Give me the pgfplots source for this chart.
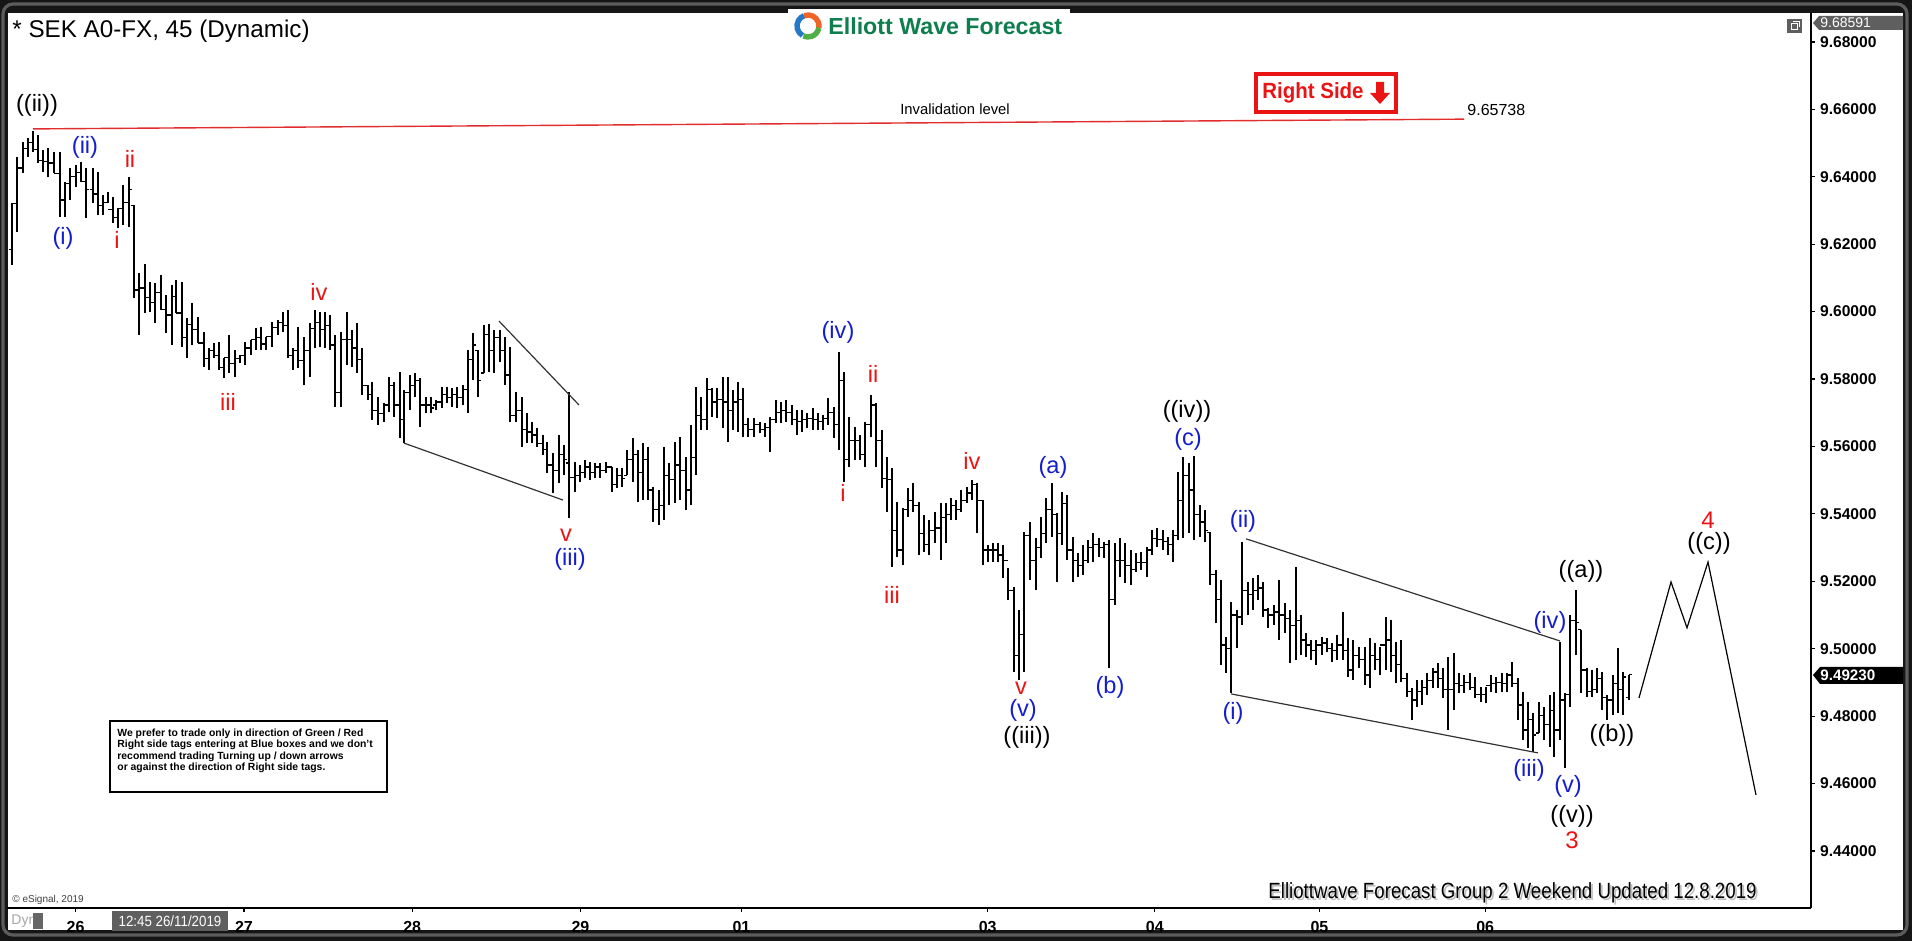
\documentclass[border=0pt]{standalone}
\usepackage{fontspec}
\setmainfont{Liberation Sans}
\usepackage{graphicx}
\usepackage{pgfplots}
\usepackage{pgfplotstable}
\pgfplotsset{compat=1.18}
\definecolor{ewblue}{RGB}{20,30,205}
\definecolor{ewred}{RGB}{235,20,20}
\definecolor{ewgreen}{RGB}{14,126,78}
\definecolor{framedark}{RGB}{22,22,22}
\definecolor{framegray}{RGB}{92,92,92}
\definecolor{tagGray}{RGB}{95,95,95}
\definecolor{logoBlue}{RGB}{35,120,200}
\definecolor{logoOrange}{RGB}{240,100,40}
\definecolor{logoGreen}{RGB}{80,175,70}

\pgfdeclareplotmark{otick}{\pgfpathmoveto{\pgfqpoint{-1.4pt}{0pt}}\pgfpathlineto{\pgfqpoint{0pt}{0pt}}\pgfusepathqstroke}
\pgfdeclareplotmark{ctick}{\pgfpathmoveto{\pgfqpoint{0pt}{0pt}}\pgfpathlineto{\pgfqpoint{1.4pt}{0pt}}\pgfusepathqstroke}

\newcommand\wlfont{\fontsize{11.8}{13}\selectfont}
\newcommand\wl[4]{\node[text=#1,font=\wlfont,inner sep=0pt] at (#2,#3) {#4};}

% x = bar position, h = high, l = low, o = open, c = close
\pgfplotstableread{
x h l o c
12 9.6322 9.6138 9.6183 9.6322
17 9.6459 9.6236 9.6322 9.6426
23 9.6503 9.6411 9.6426 9.6485
28 9.6515 9.6459 9.6485 9.6503
33 9.6536 9.6474 9.6503 9.6482
38 9.6524 9.6441 9.6482 9.6447
43 9.6480 9.6414 9.6447 9.6444
48 9.6485 9.6399 9.6444 9.6441
54 9.6474 9.6411 9.6441 9.6411
60 9.6474 9.6281 9.6411 9.6331
65 9.6385 9.6281 9.6331 9.6379
70 9.6426 9.6331 9.6379 9.6402
76 9.6435 9.6370 9.6402 9.6414
81 9.6444 9.6385 9.6414 9.6385
86 9.6426 9.6278 9.6385 9.6361
93 9.6426 9.6322 9.6361 9.6349
98 9.6414 9.6287 9.6349 9.6316
103 9.6346 9.6287 9.6316 9.6325
108 9.6355 9.6322 9.6325 9.6302
113 9.6340 9.6263 9.6302 9.6278
118 9.6307 9.6248 9.6278 9.6307
123 9.6376 9.6257 9.6307 9.6325
129 9.6399 9.6251 9.6325 9.6361
134 9.6316 9.6040 9.6316 9.6064
139 9.6115 9.5931 9.6064 9.6070
145 9.6141 9.5996 9.6070 9.6043
150 9.6088 9.5999 9.6043 9.6026
155 9.6085 9.5966 9.6026 9.6058
161 9.6109 9.6005 9.6058 9.6005
166 9.6049 9.5937 9.6005 9.5990
172 9.6079 9.5901 9.5990 9.6046
176 9.6094 9.5996 9.6046 9.5996
182 9.6088 9.5895 9.5996 9.5922
187 9.5981 9.5863 9.5922 9.5963
192 9.6026 9.5901 9.5963 9.5946
198 9.5984 9.5907 9.5946 9.5907
204 9.5940 9.5836 9.5907 9.5860
209 9.5892 9.5827 9.5860 9.5886
214 9.5907 9.5863 9.5886 9.5869
219 9.5910 9.5827 9.5869 9.5833
224 9.5863 9.5803 9.5833 9.5863
229 9.5931 9.5818 9.5863 9.5845
235 9.5886 9.5806 9.5845 9.5860
240 9.5871 9.5848 9.5860 9.5871
245 9.5910 9.5842 9.5871 9.5892
251 9.5916 9.5871 9.5892 9.5916
256 9.5952 9.5886 9.5916 9.5922
261 9.5955 9.5886 9.5922 9.5904
266 9.5925 9.5886 9.5904 9.5925
272 9.5969 9.5895 9.5925 9.5952
278 9.5975 9.5931 9.5952 9.5969
283 9.5999 9.5940 9.5969 9.5960
288 9.6005 9.5863 9.5960 9.5871
293 9.5892 9.5827 9.5871 9.5886
298 9.5955 9.5833 9.5886 9.5854
304 9.5925 9.5782 9.5854 9.5886
310 9.5966 9.5806 9.5886 9.5949
315 9.6005 9.5892 9.5949 9.5969
320 9.5999 9.5895 9.5969 9.5946
325 9.5999 9.5892 9.5946 9.5960
330 9.5990 9.5886 9.5960 9.5901
335 9.5931 9.5717 9.5901 9.5759
341 9.5940 9.5717 9.5759 9.5916
347 9.5999 9.5842 9.5916 9.5916
352 9.5946 9.5836 9.5916 9.5892
357 9.5966 9.5818 9.5892 9.5857
362 9.5892 9.5753 9.5857 9.5782
368 9.5782 9.5738 9.5782 9.5753
372 9.5791 9.5679 9.5753 9.5708
378 9.5747 9.5664 9.5708 9.5699
384 9.5729 9.5673 9.5699 9.5723
389 9.5806 9.5702 9.5723 9.5782
394 9.5791 9.5687 9.5782 9.5723
400 9.5821 9.5625 9.5723 9.5679
404 9.5768 9.5610 9.5679 9.5759
410 9.5812 9.5708 9.5759 9.5782
415 9.5818 9.5747 9.5782 9.5797
420 9.5803 9.5658 9.5797 9.5723
426 9.5747 9.5699 9.5723 9.5723
431 9.5747 9.5699 9.5723 9.5714
436 9.5738 9.5708 9.5723 9.5732
442 9.5776 9.5714 9.5732 9.5753
447 9.5776 9.5729 9.5753 9.5744
452 9.5773 9.5717 9.5744 9.5753
457 9.5776 9.5714 9.5753 9.5744
463 9.5782 9.5723 9.5744 9.5768
468 9.5886 9.5699 9.5768 9.5857
473 9.5937 9.5797 9.5857 9.5901
478 9.5886 9.5747 9.5886 9.5797
484 9.5960 9.5818 9.5818 9.5931
489 9.5963 9.5821 9.5931 9.5886
494 9.5946 9.5818 9.5886 9.5922
500 9.5946 9.5851 9.5922 9.5886
505 9.5925 9.5782 9.5886 9.5812
510 9.5895 9.5673 9.5812 9.5693
516 9.5762 9.5673 9.5693 9.5708
522 9.5747 9.5599 9.5708 9.5649
527 9.5699 9.5610 9.5649 9.5643
532 9.5673 9.5610 9.5643 9.5634
537 9.5655 9.5599 9.5634 9.5610
543 9.5634 9.5575 9.5610 9.5590
547 9.5613 9.5521 9.5590 9.5545
553 9.5581 9.5462 9.5545 9.5530
559 9.5634 9.5492 9.5530 9.5575
564 9.5605 9.5515 9.5575 9.5560
569 9.5762 9.5388 9.5551 9.5509
575 9.5554 9.5465 9.5509 9.5515
580 9.5545 9.5495 9.5515 9.5524
585 9.5560 9.5506 9.5524 9.5539
590 9.5554 9.5501 9.5539 9.5524
595 9.5551 9.5506 9.5524 9.5539
600 9.5551 9.5506 9.5539 9.5530
606 9.5554 9.5521 9.5530 9.5539
612 9.5539 9.5465 9.5539 9.5486
617 9.5536 9.5477 9.5486 9.5515
622 9.5536 9.5480 9.5515 9.5506
627 9.5590 9.5515 9.5515 9.5560
633 9.5625 9.5495 9.5560 9.5575
638 9.5590 9.5435 9.5575 9.5524
643 9.5610 9.5441 9.5524 9.5560
648 9.5599 9.5441 9.5560 9.5471
653 9.5480 9.5376 9.5471 9.5412
659 9.5471 9.5367 9.5412 9.5426
664 9.5599 9.5382 9.5426 9.5515
669 9.5551 9.5426 9.5515 9.5501
675 9.5613 9.5432 9.5501 9.5545
680 9.5628 9.5441 9.5545 9.5530
686 9.5569 9.5412 9.5530 9.5471
691 9.5664 9.5426 9.5471 9.5566
696 9.5776 9.5515 9.5566 9.5693
701 9.5747 9.5649 9.5693 9.5679
707 9.5803 9.5649 9.5679 9.5768
712 9.5773 9.5687 9.5768 9.5732
717 9.5773 9.5684 9.5732 9.5738
723 9.5806 9.5655 9.5738 9.5732
728 9.5806 9.5613 9.5732 9.5708
733 9.5768 9.5649 9.5708 9.5732
738 9.5791 9.5643 9.5732 9.5738
743 9.5773 9.5628 9.5738 9.5664
748 9.5684 9.5628 9.5664 9.5649
754 9.5684 9.5628 9.5649 9.5664
760 9.5673 9.5640 9.5664 9.5649
765 9.5670 9.5628 9.5649 9.5655
770 9.5687 9.5584 9.5655 9.5679
776 9.5738 9.5670 9.5679 9.5702
781 9.5732 9.5670 9.5702 9.5708
786 9.5738 9.5673 9.5708 9.5702
792 9.5723 9.5664 9.5702 9.5679
797 9.5708 9.5634 9.5679 9.5673
802 9.5708 9.5643 9.5673 9.5679
807 9.5699 9.5655 9.5679 9.5684
813 9.5714 9.5649 9.5684 9.5679
818 9.5699 9.5649 9.5679 9.5673
823 9.5693 9.5649 9.5673 9.5684
828 9.5744 9.5664 9.5684 9.5702
834 9.5717 9.5625 9.5702 9.5664
839 9.5880 9.5590 9.5664 9.5797
844 9.5821 9.5495 9.5797 9.5560
849 9.5687 9.5539 9.5560 9.5619
855 9.5658 9.5560 9.5619 9.5619
860 9.5634 9.5560 9.5619 9.5575
865 9.5673 9.5539 9.5575 9.5664
871 9.5753 9.5628 9.5664 9.5723
876 9.5729 9.5539 9.5723 9.5619
882 9.5649 9.5477 9.5619 9.5506
887 9.5569 9.5406 9.5506 9.5501
892 9.5536 9.5242 9.5501 9.5352
897 9.5435 9.5272 9.5352 9.5293
903 9.5417 9.5248 9.5293 9.5412
908 9.5477 9.5391 9.5412 9.5441
913 9.5492 9.5406 9.5441 9.5426
919 9.5435 9.5278 9.5426 9.5343
924 9.5397 9.5287 9.5343 9.5308
929 9.5382 9.5278 9.5308 9.5352
935 9.5406 9.5314 9.5352 9.5358
941 9.5432 9.5263 9.5358 9.5388
946 9.5432 9.5314 9.5388 9.5397
951 9.5447 9.5382 9.5397 9.5426
956 9.5441 9.5382 9.5426 9.5412
961 9.5471 9.5406 9.5412 9.5441
967 9.5480 9.5432 9.5441 9.5462
972 9.5501 9.5441 9.5462 9.5486
977 9.5492 9.5343 9.5486 9.5441
983 9.5441 9.5248 9.5441 9.5293
988 9.5308 9.5257 9.5293 9.5293
993 9.5314 9.5257 9.5293 9.5293
998 9.5314 9.5257 9.5293 9.5278
1003 9.5308 9.5210 9.5278 9.5263
1008 9.5239 9.5145 9.5263 9.5174
1014 9.5183 9.4931 9.5174 9.4981
1019 9.5115 9.4907 9.4981 9.5041
1024 9.5346 9.4931 9.5041 9.5337
1030 9.5376 9.5204 9.5337 9.5263
1036 9.5328 9.5174 9.5263 9.5299
1041 9.5391 9.5269 9.5299 9.5343
1046 9.5447 9.5314 9.5343 9.5412
1052 9.5492 9.5331 9.5412 9.5397
1057 9.5403 9.5198 9.5397 9.5343
1062 9.5465 9.5308 9.5343 9.5432
1067 9.5456 9.5263 9.5432 9.5293
1073 9.5331 9.5198 9.5293 9.5263
1078 9.5284 9.5213 9.5263 9.5248
1083 9.5308 9.5219 9.5248 9.5263
1088 9.5323 9.5254 9.5263 9.5299
1093 9.5343 9.5257 9.5299 9.5308
1099 9.5328 9.5272 9.5308 9.5299
1104 9.5317 9.5269 9.5299 9.5308
1109 9.5323 9.4943 9.5308 9.5145
1115 9.5314 9.5130 9.5145 9.5263
1120 9.5328 9.5213 9.5263 9.5263
1125 9.5314 9.5195 9.5263 9.5248
1131 9.5293 9.5189 9.5248 9.5234
1136 9.5284 9.5228 9.5234 9.5257
1141 9.5287 9.5234 9.5257 9.5257
1147 9.5302 9.5213 9.5257 9.5293
1152 9.5352 9.5278 9.5293 9.5328
1157 9.5358 9.5302 9.5328 9.5323
1163 9.5352 9.5293 9.5323 9.5317
1168 9.5331 9.5278 9.5317 9.5308
1173 9.5352 9.5257 9.5308 9.5337
1178 9.5524 9.5323 9.5337 9.5441
1183 9.5569 9.5328 9.5441 9.5515
1189 9.5551 9.5343 9.5515 9.5471
1194 9.5572 9.5323 9.5471 9.5397
1200 9.5426 9.5331 9.5397 9.5376
1205 9.5412 9.5317 9.5376 9.5352
1210 9.5346 9.5189 9.5346 9.5219
1216 9.5234 9.5076 9.5219 9.5145
1221 9.5204 9.4952 9.5145 9.5011
1226 9.5035 9.4928 9.5011 9.5002
1231 9.5139 9.4869 9.5002 9.5100
1237 9.5115 9.5002 9.5100 9.5094
1242 9.5317 9.5070 9.5094 9.5174
1248 9.5198 9.5100 9.5174 9.5160
1253 9.5210 9.5115 9.5160 9.5174
1258 9.5219 9.5145 9.5174 9.5180
1263 9.5198 9.5094 9.5180 9.5115
1268 9.5121 9.5062 9.5115 9.5100
1274 9.5130 9.5070 9.5100 9.5109
1279 9.5204 9.5026 9.5109 9.5100
1285 9.5136 9.5047 9.5100 9.5091
1290 9.5115 9.4958 9.5091 9.5070
1296 9.5243 9.4967 9.5070 9.5085
1301 9.5100 9.4981 9.5085 9.5026
1306 9.5047 9.4975 9.5026 9.5011
1311 9.5026 9.4967 9.5011 9.4996
1316 9.5026 9.4952 9.4996 9.5011
1322 9.5035 9.4981 9.5011 9.5017
1327 9.5032 9.4990 9.5017 9.5002
1332 9.5017 9.4961 9.5002 9.4996
1337 9.5041 9.4967 9.4996 9.5011
1343 9.5109 9.4967 9.5011 9.4996
1348 9.5032 9.4916 9.4996 9.4937
1353 9.5026 9.4907 9.4937 9.4981
1359 9.5005 9.4943 9.4981 9.4967
1365 9.5005 9.4892 9.4967 9.4922
1370 9.5032 9.4883 9.4922 9.4981
1375 9.5017 9.4937 9.4981 9.4967
1380 9.5005 9.4922 9.4967 9.5011
1386 9.5094 9.4937 9.5011 9.5026
1391 9.5085 9.4931 9.5026 9.4981
1396 9.5020 9.4898 9.4981 9.4952
1401 9.5026 9.4901 9.4952 9.4913
1407 9.4928 9.4857 9.4913 9.4872
1412 9.4884 9.4789 9.4872 9.4848
1417 9.4907 9.4827 9.4848 9.4872
1422 9.4907 9.4833 9.4872 9.4884
1427 9.4928 9.4863 9.4884 9.4907
1433 9.4943 9.4884 9.4907 9.4931
1438 9.4958 9.4884 9.4931 9.4913
1443 9.4943 9.4854 9.4913 9.4878
1448 9.4976 9.4759 9.4878 9.4878
1454 9.4987 9.4818 9.4878 9.4898
1459 9.4928 9.4869 9.4898 9.4892
1464 9.4922 9.4869 9.4892 9.4901
1470 9.4928 9.4878 9.4901 9.4884
1475 9.4916 9.4854 9.4884 9.4863
1481 9.4887 9.4842 9.4863 9.4863
1486 9.4887 9.4839 9.4863 9.4892
1491 9.4922 9.4872 9.4892 9.4898
1496 9.4916 9.4869 9.4898 9.4901
1502 9.4928 9.4872 9.4901 9.4898
1507 9.4928 9.4872 9.4898 9.4922
1512 9.4961 9.4887 9.4922 9.4898
1518 9.4913 9.4789 9.4898 9.4833
1523 9.4872 9.4729 9.4833 9.4759
1528 9.4842 9.4705 9.4759 9.4789
1533 9.4809 9.4694 9.4789 9.4744
1539 9.4842 9.4750 9.4750 9.4803
1544 9.4827 9.4729 9.4803 9.4774
1550 9.4863 9.4708 9.4774 9.4818
1554 9.4872 9.4679 9.4818 9.4759
1560 9.5020 9.4729 9.4759 9.4848
1565 9.4869 9.4646 9.4848 9.4863
1570 9.5100 9.4827 9.4863 9.5085
1576 9.5174 9.4981 9.5085 9.5079
1581 9.5056 9.4869 9.5056 9.4937
1587 9.4943 9.4857 9.4937 9.4872
1592 9.4937 9.4857 9.4872 9.4878
1597 9.4943 9.4869 9.4878 9.4913
1602 9.4931 9.4818 9.4913 9.4854
1607 9.4863 9.4789 9.4854 9.4848
1613 9.4922 9.4803 9.4848 9.4898
1618 9.5002 9.4809 9.4898 9.4878
1623 9.4931 9.4803 9.4878 9.4916
1629 9.4922 9.4848 9.4854 9.4923
}\bars

\begin{document}
\begin{tikzpicture}
% ---------- frame (1 unit = 1 reference pixel) ----------
\begin{scope}[shift={(-3.5pt,454pt)},x=0.5pt,y=-0.5pt]
  \fill[framedark] (0,0) rectangle (1912,941);
  \draw[framegray, line width=1.6pt, rounded corners=5pt] (3,4) rectangle (1907,935);
  \fill[white] (8,13) rectangle (1903,930);
\end{scope}

\begin{axis}[
  scale only axis, width=902pt, height=447.5pt,
  xmin=7, xmax=1811, ymin=9.42309, ymax=9.68859,
  axis x line*=bottom, axis y line*=right,
  axis line style={black, line width=0.6pt},
  tick align=outside, major tick length=2pt,
  tick style={black, line width=0.6pt},
  xtick={75.6,243.9,412.2,580.4,741.4,987.7,1154.8,1319.4,1485.2},
  xticklabels={26,27,28,29,01,03,04,05,06},
  ytick={9.44,9.46,9.48,9.50,9.52,9.54,9.56,9.58,9.60,9.62,9.64,9.66,9.68},
  yticklabels={9.44000,9.46000,9.48000,9.50000,9.52000,9.54000,9.56000,9.58000,9.60000,9.62000,9.64000,9.66000,9.68000},
  xticklabel style={font=\bfseries\fontsize{8}{9}\selectfont, yshift=-1pt},
  yticklabel style={font=\bfseries\fontsize{7.8}{9}\selectfont, xshift=-1pt},
  /pgf/number format/assume math mode=true,
  clip=false,
]
  % high-low ranges
  \addplot[draw=none, no markers, forget plot,
    error bars/.cd, y dir=plus, y explicit, error mark=none,
    error bar style={draw=black, solid, line width=0.55pt}]
    table[x=x, y=l, y error expr=\thisrow{h}-\thisrow{l}] {\bars};
  % open ticks
  \addplot[only marks, mark=otick, mark options={draw=black, line width=0.55pt}]
    table[x=x, y=o] {\bars};
  % close ticks
  \addplot[only marks, mark=ctick, mark options={draw=black, line width=0.55pt}]
    table[x=x, y=c] {\bars};

  % invalidation level line
  \addplot[color={rgb,255:red,225;green,45;blue,45}, line width=0.7pt] coordinates {(33,9.6542) (1464,9.6571)};
  % diagonal triangle
  \addplot[black!80, line width=0.6pt] coordinates {(499,9.5972) (579,9.5723)};
  \addplot[black!80, line width=0.6pt] coordinates {(404,9.5610) (563,9.5441)};
  % ending diagonal
  \addplot[black!80, line width=0.6pt] coordinates {(1246,9.5326) (1560,9.5023)};
  \addplot[black!80, line width=0.6pt] coordinates {(1231,9.4866) (1538,9.4691)};
  % forecast path
  \addplot[black, line width=0.6pt] coordinates {(1639,9.4854) (1671,9.5198) (1687,9.5062) (1708,9.5257) (1756,9.4566)};
\end{axis}

% ---------- annotations (1 unit = 1 reference pixel) ----------
\begin{scope}[shift={(-3.5pt,454pt)},x=0.5pt,y=-0.5pt]
  % title
  \node[anchor=west, inner sep=0pt, font=\fontsize{12.1}{14}\selectfont] at (12,31) {* SEK A0-FX, 45 (Dynamic)};
  % logo
  \fill[white] (788,9) rectangle (1070,46);
  \draw[logoBlue, line width=2.7pt] (808,26) ++(120:11) arc (120:250:11);
  \draw[logoOrange, line width=2.7pt] (808,26) ++(250:11) arc (250:370:11);
  \draw[logoGreen, line width=2.7pt] (808,26) ++(10:11) arc (10:115:11);
  \node[anchor=west, inner sep=0pt, text=ewgreen, font=\bfseries\fontsize{11.6}{13}\selectfont] at (828,26) {Elliott Wave Forecast};
  % top right icon
  \fill[tagGray] (1787,19) rectangle (1802,33);
  \draw[white, line width=0.4pt] (1791,23) rectangle (1797,29);
  \draw[white, line width=0.4pt] (1793,21) -- (1799,21) -- (1799,27);
  % 9.68591 tag
  \fill[tagGray] (1813,23) -- (1819,16) -- (1903,16) -- (1903,30) -- (1819,30) -- cycle;
  \node[anchor=west, inner sep=0pt, text=white, font=\fontsize{7}{8}\selectfont] at (1820,23) {9.68591};
  % last price tag
  \fill[black] (1813,675) -- (1820,667) -- (1903,667) -- (1903,684) -- (1820,684) -- cycle;
  \node[anchor=west, inner sep=0pt, text=white, font=\bfseries\fontsize{7.6}{8}\selectfont] at (1820,675.5) {9.49230};
  % right side tag
  \draw[ewred, line width=1.8pt, fill=white] (1256,74) rectangle (1396,112);
  \node[anchor=west, inner sep=0pt, text=ewred, font=\bfseries\fontsize{11}{12}\selectfont] at (1262,93) {\scalebox{0.93}[1]{Right Side}};
  \fill[ewred] (1376,82) -- (1384,82) -- (1384,93) -- (1390,93) -- (1380,104) -- (1370,93) -- (1376,93) -- cycle;
  % invalidation labels
  \node[inner sep=0pt, font=\fontsize{7.4}{8}\selectfont] at (955,109) {Invalidation level};
  \node[anchor=west, inner sep=0pt, font=\fontsize{8}{9}\selectfont] at (1467,110) {9.65738};
  % note box
  \draw[black, line width=0.8pt, fill=white] (110,721) rectangle (387,792);
  \node[anchor=west, inner sep=0pt, align=left, font=\bfseries\fontsize{5.2}{5.7}\selectfont] at (117,751)
    {We prefer to trade only in direction of Green / Red\\Right side tags entering at Blue boxes and we don't\\recommend trading Turning up / down arrows\\or against the direction of Right side tags.};
  % bottom texts
  \node[anchor=west, inner sep=0pt, text=black!75, font=\fontsize{5}{6}\selectfont] at (12,900) {\textcopyright\ eSignal, 2019};
  \node[anchor=west, inner sep=0pt, text=black!25, font=\fontsize{11}{12}\selectfont] at (1270,895) {\scalebox{0.85}[1]{Elliottwave Forecast Group 2 Weekend Updated 12.8.2019}};
  \node[anchor=west, inner sep=0pt, text=black, font=\fontsize{11}{12}\selectfont] at (1268,893) {\scalebox{0.85}[1]{Elliottwave Forecast Group 2 Weekend Updated 12.8.2019}};
  \node[anchor=west, inner sep=0pt, text=black!35, font=\fontsize{7}{8}\selectfont] at (11,921) {Dyn};
  \fill[black!60] (33,913) rectangle (43,929);
  \fill[tagGray] (112,911) rectangle (228,931);
  \node[inner sep=0pt, text=white, font=\fontsize{7.4}{8}\selectfont] at (170,921) {\scalebox{0.9}[1]{12:45 26/11/2019}};

  % wave labels: black
  \wl{black}{37}{105}{((ii))}
  \wl{black}{1027}{737}{((iii))}
  \wl{black}{1187}{411}{((iv))}
  \wl{black}{1581}{571}{((a))}
  \wl{black}{1612}{735}{((b))}
  \wl{black}{1572}{816}{((v))}
  \wl{black}{1709}{543}{((c))}
  % blue
  \wl{ewblue}{63}{238}{(i)}
  \wl{ewblue}{85}{147}{(ii)}
  \wl{ewblue}{570}{559}{(iii)}
  \wl{ewblue}{838}{332}{(iv)}
  \wl{ewblue}{1053}{467}{(a)}
  \wl{ewblue}{1110}{687}{(b)}
  \wl{ewblue}{1188}{439}{(c)}
  \wl{ewblue}{1023}{710}{(v)}
  \wl{ewblue}{1233}{713}{(i)}
  \wl{ewblue}{1243}{521}{(ii)}
  \wl{ewblue}{1550}{622}{(iv)}
  \wl{ewblue}{1529}{770}{(iii)}
  \wl{ewblue}{1568}{786}{(v)}
  % red
  \wl{ewred}{130}{159}{ii}
  \wl{ewred}{117}{240}{i}
  \wl{ewred}{319}{292}{iv}
  \wl{ewred}{228}{402}{iii}
  \wl{ewred}{566}{535}{v}
  \wl{ewred}{873}{374}{ii}
  \wl{ewred}{843}{493}{i}
  \wl{ewred}{892}{595}{iii}
  \wl{ewred}{972}{461}{iv}
  \wl{ewred}{1021}{688}{v}
  \node[text=ewred, inner sep=0pt, font=\fontsize{12}{13}\selectfont] at (1572,840) {3};
  \node[text=ewred, inner sep=0pt, font=\fontsize{12}{13}\selectfont] at (1708,520) {4};

  \pgfresetboundingbox
  \useasboundingbox (0,0) rectangle (1912,941);
\end{scope}
\end{tikzpicture}
\end{document}
